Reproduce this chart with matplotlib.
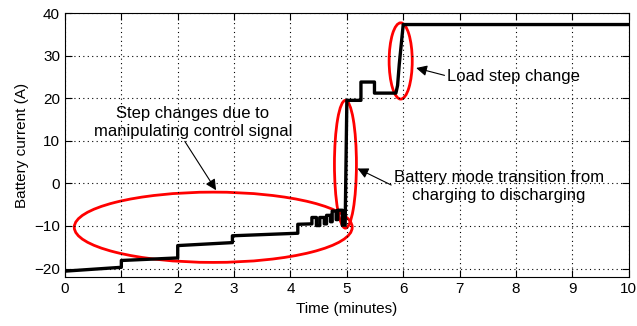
import matplotlib.pyplot as plt
from matplotlib.patches import Ellipse

plt.rcParams['font.family'] = ['Liberation Sans', 'DejaVu Sans']

# battery current vs time
time_min = [0, 1.0, 1.0, 2.0, 2.0, 2.97, 2.97, 4.13, 4.13, 4.38, 4.38, 4.46, 4.46,
            4.52, 4.52, 4.60, 4.60, 4.64, 4.64, 4.71, 4.71, 4.74, 4.74, 4.81, 4.81,
            4.84, 4.84, 4.92, 4.92, 4.97, 5.0, 5.25, 5.25, 5.49, 5.49, 5.87, 5.90,
            5.93, 6.0, 10.0]
current_a = [-20.6, -19.7, -18.1, -17.5, -14.6, -13.9, -12.3, -11.7, -9.6, -9.5, -8.0,
             -8.0, -9.9, -9.9, -8.0, -8.0, -9.5, -9.5, -7.5, -7.5, -9.0, -9.0, -6.5,
             -6.5, -8.5, -8.5, -6.3, -6.3, -9.8, -9.8, 19.5, 19.5, 23.8, 23.8, 21.2,
             21.2, 23.0, 28.0, 37.3, 37.3]

# red ellipses: (center t, center i, width, height)
ellipses = [(2.63, -10.3, 4.93, 16.5),
            (4.975, 4.5, 0.39, 30.0),
            (5.955, 28.75, 0.41, 17.9)]

# annotations: text, text pos, arrow tip
notes = [("Step changes due to\nmanipulating control signal", (2.27, 14.4), (2.68, -1.6)),
         ("Battery mode transition from\ncharging to discharging", (7.7, -0.7), (5.19, 3.5)),
         ("Load step change", (7.96, 25.2), (6.23, 27.1))]

fig = plt.figure(figsize=(6.37, 3.26), dpi=100)
ax = fig.add_axes([0.102, 0.150, 0.885, 0.810])

ax.plot(time_min, current_a, color='k', lw=2.4)

for cx, cy, w, h in ellipses:
    ax.add_patch(Ellipse((cx, cy), w, h, fill=False, edgecolor='#ff0000', lw=2))

for txt, xy_text, xy_tip in notes:
    ax.annotate(txt, xy=xy_tip, xytext=xy_text, ha='center', va='center',
                fontsize=12, linespacing=1.25,
                arrowprops=dict(arrowstyle='-|>', color='k', lw=0.8,
                                mutation_scale=16, shrinkA=0, shrinkB=0,
                                relpos=(0.0, 0.5) if xy_tip[0] > 5 else (0.45, 0.0)))

ax.set_xlim(0, 10)
ax.set_ylim(-22, 40)
ax.set_xticks(range(0, 11))
ax.set_yticks(range(-20, 41, 10))
ax.grid(True, color='k', linestyle=(0, (1, 3)), lw=0.8)
ax.tick_params(direction='in', top=True, right=True, labelsize=11, length=5)
ax.set_xlabel('Time (minutes)', fontsize=11)
ax.set_ylabel('Battery current (A)', fontsize=11)

fig.savefig('out.png', dpi=100)
